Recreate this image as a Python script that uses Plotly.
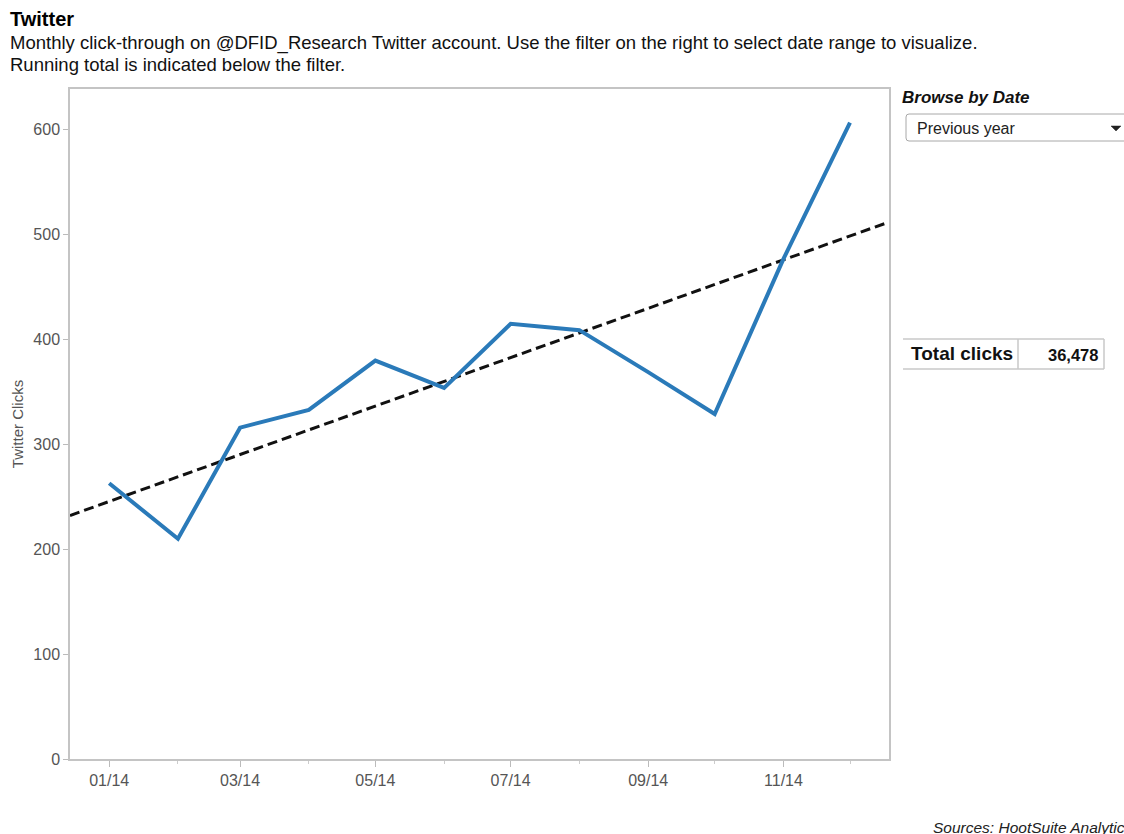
import numpy as np
import pandas as pd
import plotly.graph_objects as go

# ---- data ----
months = ["2014-01-01", "2014-02-01", "2014-03-01", "2014-04-01", "2014-05-01", "2014-06-01",
          "2014-07-01", "2014-08-01", "2014-09-01", "2014-10-01", "2014-11-01", "2014-12-01"]
clicks = [263, 210, 316, 333, 380, 354, 415, 409, 369, 329, 477, 607]
x_range = ["2013-12-14 08:00", "2014-12-18 14:00"]
y_range = [0, 639]
tick_dates = ["2014-01-01", "2014-03-01", "2014-05-01", "2014-07-01", "2014-09-01", "2014-11-01"]
tick_labels = ["01/14", "03/14", "05/14", "07/14", "09/14", "11/14"]
y_ticks = [0, 100, 200, 300, 400, 500, 600]
total_clicks = "36,478"
filter_value = "Previous year"

# ---- linear trend (least squares on day number) ----
d = pd.to_datetime(months)
t0 = d[0]
days = np.array([(v - t0).total_seconds() / 86400 for v in d])
slope, icpt = np.polyfit(days, np.array(clicks, dtype=float), 1)
xr = pd.to_datetime(x_range)
tr_days = np.array([(v - t0).total_seconds() / 86400 for v in xr])
trend_y = slope * tr_days + icpt

# ---- layout geometry (pixels) ----
FW, FH = 1124, 834
L, R, T, B = 70, 889, 89, 759
W, H = R - L, B - T


def px(x):
    return (x - L) / W


def py(y):
    return (B - y) / H


FONT = "Liberation Sans, Arial, sans-serif"

fig = go.Figure()
fig.add_trace(go.Scatter(x=list(xr), y=list(trend_y), mode="lines",
                         line=dict(color="#111111", width=3, dash="10px,5px"),
                         hoverinfo="skip", showlegend=False))
fig.add_trace(go.Scatter(x=months, y=clicks, mode="lines",
                         line=dict(color="#2a7ab9", width=4),
                         showlegend=False, name="Twitter Clicks"))

shapes = []
# dropdown box
shapes.append(dict(type="path", xref="paper", yref="paper",
                   path=(f"M {px(909)} {py(114)} L {px(1130)} {py(114)} L {px(1130)} {py(141)} "
                         f"L {px(909)} {py(141)} Q {px(906)} {py(141)} {px(906)} {py(138)} "
                         f"L {px(906)} {py(117)} Q {px(906)} {py(114)} {px(909)} {py(114)} Z"),
                   line=dict(color="#a8a8a8", width=1), fillcolor="white", layer="above"))
# dropdown arrow
shapes.append(dict(type="path", xref="paper", yref="paper",
                   path=f"M {px(1111)} {py(126)} L {px(1121)} {py(126)} L {px(1116)} {py(131)} Z",
                   line=dict(color="#222222", width=0.5), fillcolor="#222222"))
# total clicks table lines
for (x0, y0, x1, y1) in [(903, 339, 1104, 339), (903, 369, 1104, 369),
                         (1018, 339, 1018, 369), (1104, 339, 1104, 369)]:
    shapes.append(dict(type="line", xref="paper", yref="paper",
                       x0=px(x0), y0=py(y0), x1=px(x1), y1=py(y1),
                       line=dict(color="#c8c8c8", width=1.5)))

annotations = [
    dict(text="<b>Twitter</b>", x=px(8), y=py(19), xanchor="left", yanchor="middle",
         font=dict(size=20, color="#000000", family=FONT)),
    dict(text="Monthly click-through on @DFID_Research Twitter account. Use the filter on the right to select date range to visualize.",
         x=px(8), y=py(43), xanchor="left", yanchor="middle",
         font=dict(size=18.5, color="#111111", family=FONT)),
    dict(text="Running total is indicated below the filter.",
         x=px(8), y=py(64), xanchor="left", yanchor="middle",
         font=dict(size=18.5, color="#111111", family=FONT)),
    dict(text="<b><i>Browse by Date</i></b>", x=px(900), y=py(97), xanchor="left", yanchor="middle",
         font=dict(size=17, color="#111111", family=FONT)),
    dict(text=filter_value, x=px(915), y=py(128), xanchor="left", yanchor="middle",
         font=dict(size=16, color="#222222", family=FONT)),
    dict(text="<b>Total clicks</b>", x=px(962), y=py(353), xanchor="center", yanchor="middle",
         font=dict(size=19, color="#111111", family=FONT)),
    dict(text=f"<b>{total_clicks}</b>", x=px(1100), y=py(355), xanchor="right", yanchor="middle",
         font=dict(size=16.5, color="#111111", family=FONT)),
    dict(text="<i>Sources: HootSuite Analytics</i>", x=px(931), y=py(827), xanchor="left", yanchor="middle",
         font=dict(size=15.5, color="#222222", family=FONT)),
]
for a in annotations:
    a.update(xref="paper", yref="paper", showarrow=False)

fig.update_layout(
    width=FW, height=FH,
    margin=dict(l=L, r=FW - R, t=T, b=FH - B, pad=0),
    paper_bgcolor="white", plot_bgcolor="white",
    font=dict(family=FONT, color="#555555"),
    shapes=shapes, annotations=annotations,
    xaxis=dict(type="date", range=list(xr), tickmode="array", tickvals=tick_dates, ticktext=tick_labels,
               ticks="outside", ticklen=6, tickcolor="#bbbbbb", tickwidth=1,
               minor=dict(dtick="M1", tick0="2014-01-01", ticks="outside", ticklen=3,
                          tickcolor="#cccccc", showgrid=False),
               showgrid=False, zeroline=False, showline=True, mirror=True,
               linecolor="#c4c4c4", linewidth=1.5,
               tickfont=dict(size=16, color="#555555", family=FONT)),
    yaxis=dict(range=y_range, tickmode="array", tickvals=y_ticks,
               ticks="outside", ticklen=5, tickcolor="#bbbbbb", tickwidth=1,
               showgrid=False, zeroline=False, showline=True, mirror=True,
               linecolor="#c4c4c4", linewidth=1.5,
               tickfont=dict(size=16, color="#555555", family=FONT),
               title=dict(text="Twitter Clicks", standoff=6,
                          font=dict(size=15, color="#555555", family=FONT))),
)

fig.write_html("out.html", config={"displayModeBar": False})
